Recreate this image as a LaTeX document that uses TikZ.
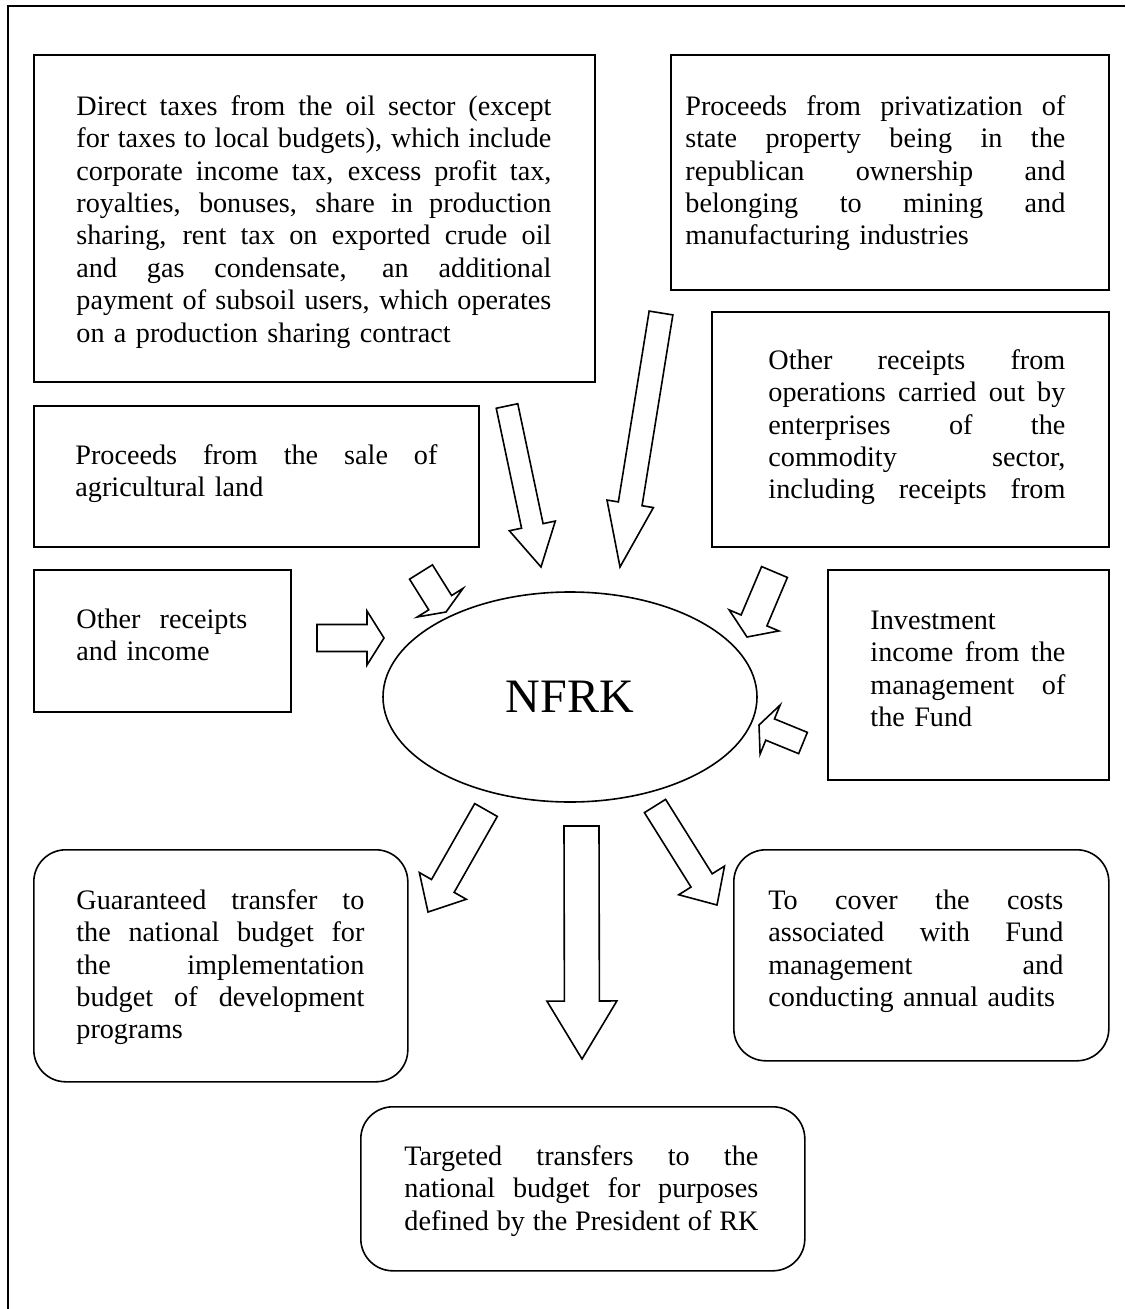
\documentclass[tikz,border=0pt]{standalone}
\usepackage{fontspec}
\setmainfont{Liberation Serif}
\usetikzlibrary{calc,shapes.geometric}
\tikzset{
  bx/.style={draw, line width=0.8pt, rectangle, inner sep=0pt, anchor=north west},
  rbx/.style={bx, rounded corners=16pt},
  txt/.style={anchor=north west, inner sep=0pt, align=left,
    font=\fontsize{14.1pt}{16.2pt}\selectfont},
  blockarrow/.style={draw, line width=0.8pt, line join=miter, fill=white},
}
% a justified line: spaces stretched (or slightly shrunk) to the full width
\newcommand\jbox[1]{\leavevmode\hbox to \hsize{\spaceskip=0.25em plus 1fil minus 0.1em\relax #1}}
\newcommand\jl[1]{\jbox{#1}\\}
% tail, tip, half shaft width, half head width, head length
\newcommand\barrow[5]{%
  \path ($(#2)!#5!(#1)$) coordinate (#1-b);
  \draw[blockarrow] ($(#1)!#3!90:(#2)$) -- ($(#1-b)!#3!90:(#2)$)
    -- ($(#1-b)!#4!90:(#2)$) -- (#2) -- ($(#1-b)!#4!-90:(#2)$)
    -- ($(#1-b)!#3!-90:(#2)$) -- ($(#1)!#3!-90:(#2)$) -- cycle;}
\begin{document}
\begin{tikzpicture}[x=0.5pt, y=-0.5pt]
\useasboundingbox (0,0) rectangle (1125,1309);
% outer frame
\draw[line width=0.8pt] (8,1309) -- (8,6) -- (1125,6);

% boxes
\node[bx, minimum width=280.5pt, minimum height=163.5pt] (b1) at (33,54) {};
\node[bx, minimum width=219pt, minimum height=117.5pt] (b2) at (670,54) {};
\node[bx, minimum width=222.5pt, minimum height=70.5pt] (b3) at (33,405) {};
\node[bx, minimum width=198.5pt, minimum height=117.5pt] (b4) at (711,311) {};
\node[bx, minimum width=128.5pt, minimum height=71pt] (b5) at (33,569) {};
\node[bx, minimum width=140.5pt, minimum height=105pt] (b6) at (827,569) {};
\node[rbx, minimum width=187pt, minimum height=116pt] (b7) at (33,849) {};
\node[rbx, minimum width=187.5pt, minimum height=105.5pt] (b8) at (733,849) {};
\node[rbx, minimum width=222pt, minimum height=82pt] (b9) at (360,1106) {};

% texts (first baseline about 61px below the box top)
\node[txt, text width=237.5pt] (t1) at (76,92.3) {\strut
\jl{Direct taxes from the oil sector (except}%
\jl{for taxes to local budgets), which include}%
\jl{corporate income tax, excess profit tax,}%
\jl{royalties, bonuses, share in production}%
\jl{sharing, rent tax on exported crude oil}%
\jl{and gas condensate, an additional}%
\jl{payment of subsoil users, which operates}%
on a production sharing contract};
\node[txt, text width=190pt] (t2) at (685,92.3) {\strut
\jl{Proceeds from privatization of}%
\jl{state property being in the}%
\jl{republican ownership and}%
\jl{belonging to mining and}%
manufacturing industries};
\node[txt, text width=181pt] (t3) at (75,441.3) {\strut
\jl{Proceeds from the sale of}%
agricultural land};
\node[txt, text width=148.5pt] (t4) at (768,346.3) {\strut
\jl{Other receipts from}%
\jl{operations carried out by}%
\jl{enterprises of the}%
\jl{commodity sector,}%
\jbox{including receipts from}};
\node[txt, text width=85.5pt] (t5) at (76,605.3) {\strut
\jl{Other receipts}%
and income};
\node[txt, text width=97.5pt] (t6) at (870,606.3) {\strut
Investment\\
\jl{income from the}%
\jl{management of}%
the Fund};
\node[txt, text width=144pt] (t7) at (76,886.3) {\strut
\jl{Guaranteed transfer to}%
\jl{the national budget for}%
\jl{the implementation}%
\jl{budget of development}%
programs};
\node[txt, text width=147.5pt] (t8) at (768,886.3) {\strut
\jl{To cover the costs}%
\jl{associated with Fund}%
\jl{management and}%
conducting annual audits};
\node[txt, text width=177pt] (t9) at (404,1142.3) {\strut
\jl{Targeted transfers to the}%
\jl{national budget for purposes}%
\jbox{defined by the President of RK}};

% central ellipse
\node[draw, ellipse, line width=0.8pt, minimum width=187pt, minimum height=105pt,
  inner sep=0pt, font=\fontsize{24pt}{28pt}\selectfont] (nfrk) at (570,697) {NFRK};

% block arrows
\coordinate (aT) at (507,406);   \coordinate (aP) at (541,567);
\coordinate (bT) at (661,313);   \coordinate (bP) at (620,567);
\coordinate (cT) at (421,572);   \coordinate (cP) at (446,612);
\coordinate (dT) at (317,638);   \coordinate (dP) at (384,638);
\coordinate (eT) at (774.5,572); \coordinate (eP) at (747,637);
\coordinate (fT) at (803,743);   \coordinate (fP) at (759,725);
\coordinate (gT) at (486,810);   \coordinate (gP) at (428,912);
\coordinate (hT) at (581.5,826); \coordinate (hP) at (582,1059);
\coordinate (iT) at (655,806);   \coordinate (iP) at (717,905);
\barrow{aT}{aP}{5.5pt}{11.75pt}{21pt}
\barrow{bT}{bP}{6pt}{11.75pt}{32pt}
\barrow{cT}{cP}{6.75pt}{13.5pt}{5.5pt}
\barrow{dT}{dP}{6.75pt}{13.5pt}{8.5pt}
\barrow{eT}{eP}{7pt}{13.5pt}{9pt}
\barrow{fT}{fP}{5.75pt}{13.25pt}{6pt}
\barrow{gT}{gP}{6.5pt}{13.5pt}{15pt}
\barrow{hT}{hP}{8.75pt}{17.5pt}{29pt}
\barrow{iT}{iP}{6.25pt}{13.5pt}{14.5pt}
\end{tikzpicture}
\end{document}
